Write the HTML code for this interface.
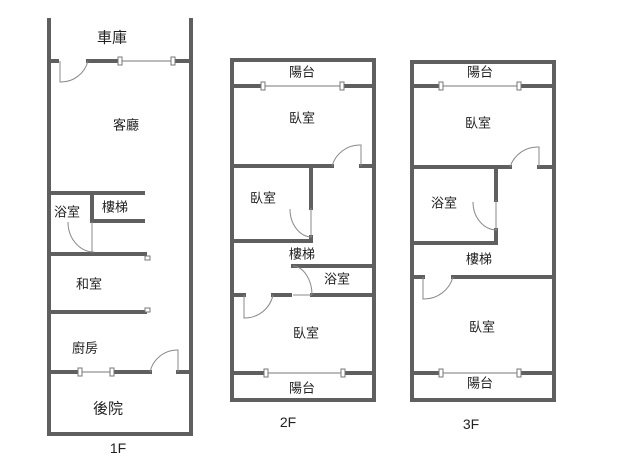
<!DOCTYPE html>
<html><head><meta charset="utf-8"><style>
html,body{margin:0;padding:0;background:#fff;width:640px;height:461px;overflow:hidden}
text{font-family:"Liberation Sans","Noto Sans CJK TC",sans-serif;font-size:13px;fill:#222;text-anchor:middle;dominant-baseline:central}
</style></head><body>
<svg width="640" height="461" viewBox="0 0 640 461" xmlns="http://www.w3.org/2000/svg">
<g stroke="#5f5f5f" stroke-width="4" fill="none" stroke-linecap="square">
<path d="M49 20V434H191V20"/>
<path d="M49 61H57M88 61H120M173 61H191"/>
<path d="M49 193H143M92 193V221H143"/>
<path d="M49 254H145M49 312H145"/>
<path d="M49 372H80M112 372H150M178 372H191"/>
<path d="M232 60H374V400H232Z"/>
<path d="M232 86H263M342 86H374"/>
<path d="M232 166H332M361 166H374"/>
<path d="M311 166V208M311 237V241H232"/>
<path d="M293 266H374"/>
<path d="M232 295H244M273 295H290M312 295H374"/>
<path d="M232 373H266M343 373H374"/>
<path d="M412 62H554V400H412Z"/>
<path d="M412 86H441M519 86H554"/>
<path d="M412 167H510M539 167H554"/>
<path d="M496 167V200M496 230V243H412"/>
<path d="M412 277H423M453 277H554"/>
<path d="M412 373H441M519 373H554"/>
</g>
<g stroke="#777" stroke-width="1" fill="#fff">
<line x1="120" y1="61" x2="173" y2="61"/><rect x="118" y="57" width="4" height="8"/><rect x="171" y="57" width="4" height="8"/>
<line x1="80" y1="372" x2="112" y2="372"/><rect x="78" y="368" width="4" height="8"/><rect x="110" y="368" width="4" height="8"/>
<line x1="263" y1="86" x2="342" y2="86"/><rect x="261" y="82" width="4" height="8"/><rect x="340" y="82" width="4" height="8"/>
<line x1="266" y1="373" x2="343" y2="373"/><rect x="264" y="369" width="4" height="8"/><rect x="341" y="369" width="4" height="8"/>
<line x1="441" y1="86" x2="519" y2="86"/><rect x="439" y="82" width="4" height="8"/><rect x="517" y="82" width="4" height="8"/>
<line x1="441" y1="373" x2="519" y2="373"/><rect x="439" y="369" width="4" height="8"/><rect x="517" y="369" width="4" height="8"/>
<rect x="145" y="256" width="5" height="4"/><rect x="145" y="308" width="5" height="4"/>
</g>
<g stroke="#888" stroke-width="1" fill="none">
<path d="M60 61V82A28 28 0 0 0 88 61"/>
<path d="M92 222V252M68 222A26 30 0 0 0 94 252"/>
<path d="M178 372V350A28 28 0 0 0 150 372"/>
<path d="M361 166V145A29 29 0 0 0 332 166"/>
<path d="M311 208V237M290 209A22 28 0 0 0 312 237"/>
<path d="M244 295V318A29 29 0 0 0 273 295"/>
<path d="M293 266A20 29 0 0 1 312 295M293 295H312"/>
<path d="M539 167V147A29 29 0 0 0 510 167"/>
<path d="M496 200V230M473 202A24 28 0 0 0 497 230"/>
<path d="M423 277V299A30 30 0 0 0 453 277"/>
</g>
<text x="112" y="38" style="font-size:15px">車庫</text>
<text x="126" y="125">客廳</text>
<text x="67" y="212">浴室</text>
<text x="115" y="207">樓梯</text>
<text x="89" y="284">和室</text>
<text x="85" y="348">廚房</text>
<text x="108" y="409" style="font-size:15px">後院</text>
<text x="118" y="448" style="font-size:14px">1F</text>
<text x="302" y="72">陽台</text>
<text x="302" y="118">臥室</text>
<text x="263" y="198">臥室</text>
<text x="302" y="254">樓梯</text>
<text x="337" y="279">浴室</text>
<text x="306" y="333">臥室</text>
<text x="302" y="388">陽台</text>
<text x="288" y="422" style="font-size:14px">2F</text>
<text x="480" y="72">陽台</text>
<text x="478" y="123">臥室</text>
<text x="444" y="203">浴室</text>
<text x="479" y="259">樓梯</text>
<text x="482" y="327">臥室</text>
<text x="480" y="383">陽台</text>
<text x="471" y="424" style="font-size:14px">3F</text>
</svg>
</body></html>
